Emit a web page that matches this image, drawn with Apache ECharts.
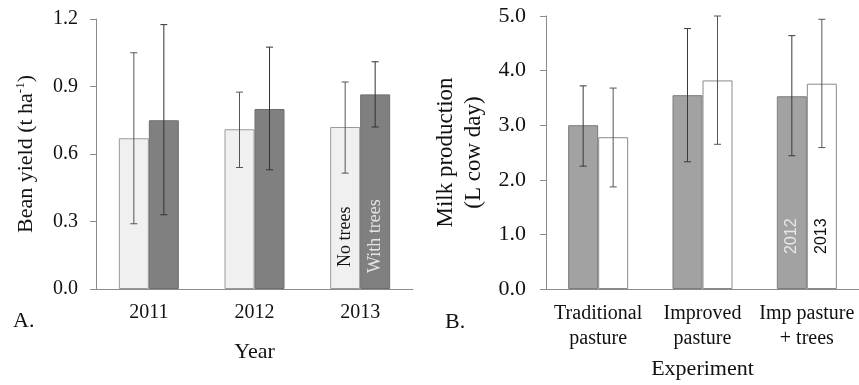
<!DOCTYPE html>
<html>
<head>
    <meta charset="utf-8">
    <script type="text/javascript" src="https://cdn.jsdelivr.net/npm/echarts@6/dist/echarts.min.js"></script>
</head>
<body style="margin:0; background-color:#fff">
<div id="main" style="width: 859px; height: 385px;"></div>
<script type="text/javascript">
    // Panel A: bean yield
    var years          = ['2011', '2012', '2013'];
    var noTrees        = [0.67, 0.71, 0.72];
    var noTreesLow     = [0.29, 0.54, 0.515];
    var noTreesHigh    = [1.05, 0.875, 0.92];
    var withTrees      = [0.75, 0.80, 0.865];
    var withTreesLow   = [0.33, 0.53, 0.72];
    var withTreesHigh  = [1.175, 1.075, 1.01];

    // Panel B: milk production
    var experiments    = ['Traditional\npasture', 'Improved\npasture', 'Imp pasture\n+ trees'];
    var milk2012       = [3.0, 3.55, 3.53];
    var milk2012Low    = [2.25, 2.33, 2.44];
    var milk2012High   = [3.72, 4.77, 4.64];
    var milk2013       = [2.78, 3.82, 3.76];
    var milk2013Low    = [1.87, 2.65, 2.59];
    var milk2013High   = [3.68, 5.0, 4.94];

    var SERIF = "'Liberation Serif', 'Times New Roman', serif";
    var SANS  = "'Liberation Sans', Arial, sans-serif";
    var BAR_W = 30;
    var AXIS_COLOR = '#8c8c8c';

    function withLabel(values, idx, label) {
        return values.map(function (v, i) {
            return i === idx ? { value: v, label: label } : v;
        });
    }

    function innerLabel(text, color, distance, font, size) {
        return {
            show: true,
            formatter: text,
            position: 'insideBottom',
            rotate: 90,
            align: 'left',
            verticalAlign: 'middle',
            distance: distance,
            color: color,
            fontFamily: font,
            fontSize: size
        };
    }

    function errorBars(axisIndex, low, high, side, color) {
        return {
            type: 'custom',
            xAxisIndex: axisIndex,
            yAxisIndex: axisIndex,
            z: 10,
            silent: true,
            encode: { x: 0, y: [1, 2] },
            data: low.map(function (l, i) { return [i, l, high[i]]; }),
            renderItem: function (params, api) {
                var lo = api.coord([api.value(0), api.value(1)]);
                var hi = api.coord([api.value(0), api.value(2)]);
                var x = lo[0] + side * BAR_W / 2;
                var cap = 3.5;
                var style = { stroke: color, lineWidth: 1 };
                return {
                    type: 'group',
                    children: [
                        { type: 'line', shape: { x1: x, y1: lo[1], x2: x, y2: hi[1] }, style: style },
                        { type: 'line', shape: { x1: x - cap, y1: lo[1], x2: x + cap, y2: lo[1] }, style: style },
                        { type: 'line', shape: { x1: x - cap, y1: hi[1], x2: x + cap, y2: hi[1] }, style: style }
                    ]
                };
            }
        };
    }

    function catAxis(gridIndex, data, name, nameGap, lineHeight) {
        return {
            type: 'category',
            gridIndex: gridIndex,
            data: data,
            name: name,
            nameLocation: 'middle',
            nameGap: nameGap,
            nameTextStyle: { fontFamily: SERIF, fontSize: 22, color: '#111' },
            axisLine: { lineStyle: { color: AXIS_COLOR } },
            axisTick: { length: 6, lineStyle: { color: AXIS_COLOR } },
            axisLabel: {
                interval: 0, hideOverlap: false,
                fontFamily: SERIF, fontSize: 20, color: '#111', margin: 12, lineHeight: lineHeight
            }
        };
    }

    function valAxis(gridIndex, max, interval, margin, fontSize, name, nameGap, nameStyle) {
        return {
            type: 'value',
            gridIndex: gridIndex,
            min: 0,
            max: max,
            interval: interval,
            name: name,
            nameLocation: 'middle',
            nameGap: nameGap,
            nameTextStyle: nameStyle,
            axisLine: { show: true, lineStyle: { color: AXIS_COLOR } },
            axisTick: { show: true, length: 6, lineStyle: { color: AXIS_COLOR } },
            splitLine: { show: false },
            axisLabel: {
                fontFamily: SERIF, fontSize: fontSize, color: '#111', margin: margin,
                formatter: function (v) { return v.toFixed(1); }
            }
        };
    }

    var myChart = echarts.init(document.getElementById('main'), null, { renderer: 'canvas' });

    var option = {
        animation: false,
        backgroundColor: '#fff',
        grid: [
            { left: 96, top: 19, width: 317, height: 270 },
            { left: 546, top: 16, width: 313, height: 273 }
        ],
        xAxis: [
            catAxis(0, years, 'Year', 52, 24),
            catAxis(1, experiments, 'Experiment', 69, 25)
        ],
        yAxis: [
            valAxis(0, 1.2, 0.3, 18, 20, '{a|Bean yield (t ha}{s|-1}{a|)}', 58, {
                rich: {
                    a: { fontFamily: SERIF, fontSize: 22, color: '#111', lineHeight: 24 },
                    s: { fontFamily: SERIF, fontSize: 13, color: '#111', verticalAlign: 'top', lineHeight: 24 }
                }
            }),
            valAxis(1, 5, 1, 20, 22, 'Milk production\n(L cow day)', 58, {
                fontFamily: SERIF, fontSize: 23, color: '#111', lineHeight: 28
            })
        ],
        graphic: [
            { type: 'text', left: 13, top: 310, style: { text: 'A.', fontFamily: SERIF, fontSize: 22, fill: '#111' } },
            { type: 'text', left: 445, top: 311, style: { text: 'B.', fontFamily: SERIF, fontSize: 22, fill: '#111' } }
        ],
        series: [
            {
                type: 'bar', xAxisIndex: 0, yAxisIndex: 0, barWidth: BAR_W, barGap: '0%',
                itemStyle: { color: '#f0f0f0', borderColor: '#9a9a9a', borderWidth: 1 },
                data: withLabel(noTrees, 2, innerLabel('No trees', '#111', 22, SERIF, 18))
            },
            {
                type: 'bar', xAxisIndex: 0, yAxisIndex: 0, barWidth: BAR_W, barGap: '0%',
                itemStyle: { color: '#808080', borderColor: '#6e6e6e', borderWidth: 1 },
                data: withLabel(withTrees, 2, innerLabel('With trees', '#e4e4e4', 16, SERIF, 18))
            },
            {
                type: 'bar', xAxisIndex: 1, yAxisIndex: 1, barWidth: BAR_W, barGap: '0%',
                itemStyle: { color: '#a2a2a2', borderColor: '#7c7c7c', borderWidth: 1 },
                data: withLabel(milk2012, 2, innerLabel('2012', '#e8e8e8', 35, SANS, 16))
            },
            {
                type: 'bar', xAxisIndex: 1, yAxisIndex: 1, barWidth: BAR_W, barGap: '0%',
                itemStyle: { color: '#ffffff', borderColor: '#8a8a8a', borderWidth: 1 },
                data: withLabel(milk2013, 2, innerLabel('2013', '#111', 35, SANS, 16))
            },
            errorBars(0, noTreesLow, noTreesHigh, -1, '#555'),
            errorBars(0, withTreesLow, withTreesHigh, 1, '#333'),
            errorBars(1, milk2012Low, milk2012High, -1, '#3a3a3a'),
            errorBars(1, milk2013Low, milk2013High, 1, '#555')
        ]
    };
    myChart.setOption(option);
</script>
</body>
</html>
